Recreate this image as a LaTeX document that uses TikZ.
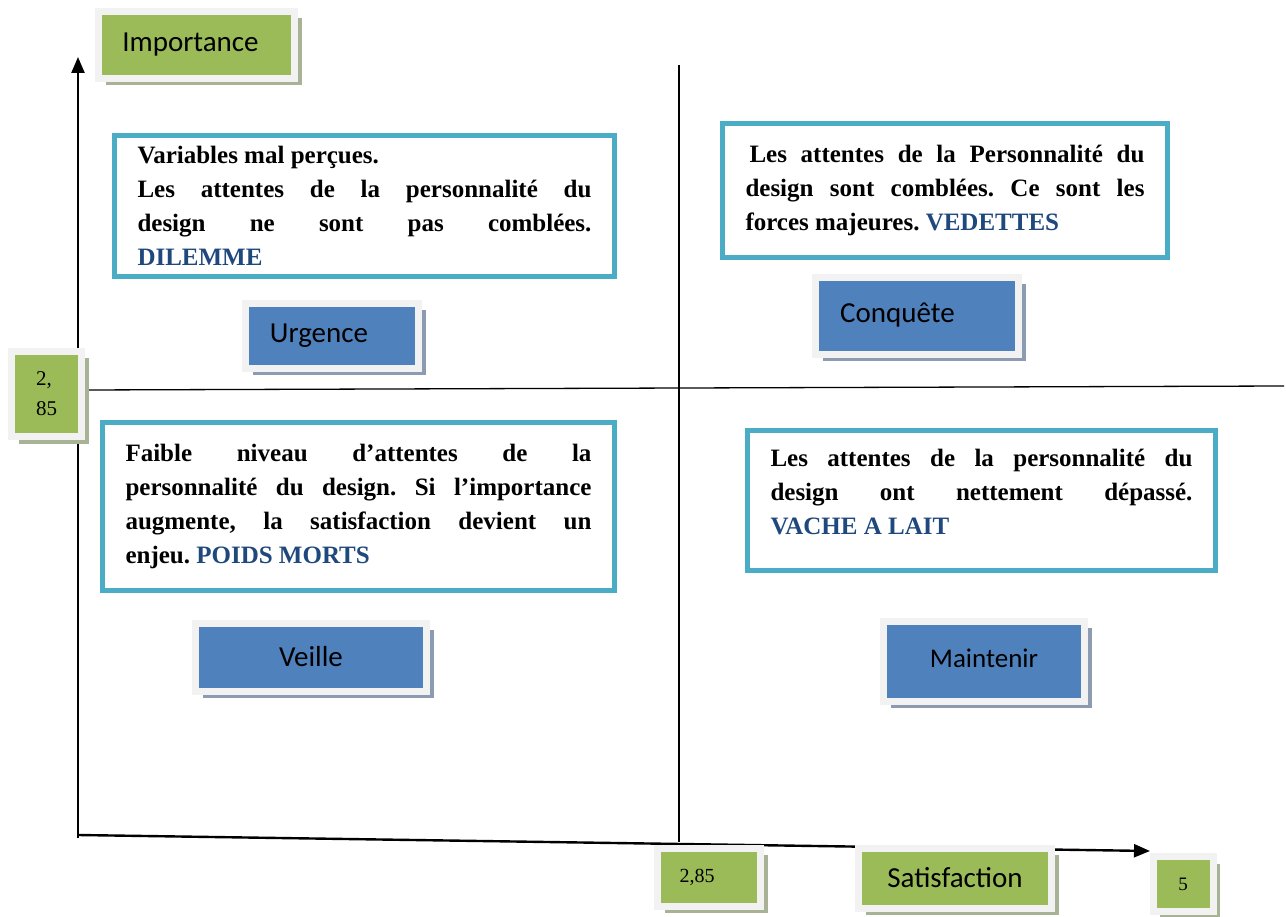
\documentclass[tikz,border=0pt]{standalone}
\usepackage{fontspec}
\setmainfont{Liberation Serif}
\newfontfamily\calibfont{Carlito}
\usetikzlibrary{arrows.meta,shadows}
\definecolor{labgreen}{RGB}{155,187,89}
\definecolor{labblue}{RGB}{79,129,189}
\definecolor{rimgray}{RGB}{242,242,242}
\definecolor{quadcyan}{RGB}{75,172,198}
\definecolor{keyblue}{RGB}{31,73,125}
\definecolor{greenshade}{RGB}{168,178,148}
\definecolor{blueshade}{RGB}{140,155,178}
\newcommand{\keyword}[1]{\textcolor{keyblue}{#1}}
\frenchspacing

\begin{document}
\begin{tikzpicture}[x=1pt,y=-1pt,
    axis/.style={line width=2.4pt, -{Triangle[length=16pt,width=13pt]}},
    split/.style={line width=1.3pt},
    axislabel/.style={fill=labgreen, draw=rimgray, line width=7pt, inner sep=0pt,
      drop shadow={shadow xshift=7pt, shadow yshift=-7pt, fill=greenshade, opacity=1}},
    zonelabel/.style={fill=labblue, draw=rimgray, line width=7pt, inner sep=0pt,
      font=\calibfont\fontsize{29}{34}\selectfont,
      drop shadow={shadow xshift=7pt, shadow yshift=-7pt, fill=blueshade, opacity=1}},
    quadbox/.style={draw=quadcyan, line width=5pt, fill=white, inner xsep=23pt,
      align=justify, font=\bfseries\fontsize{25}{34}\selectfont}]

\useasboundingbox (0,0) rectangle (1286,917);

% Axes
\coordinate (origin) at (78,838);
\coordinate (ytip) at (78,57);
\coordinate (xstart) at (78,835);
\coordinate (xtip) at (1150,851);
\draw[axis] (origin) -- (ytip);
\draw[axis] (xstart) -- (xtip);

% Quadrant split
\coordinate (vtop) at (679,65);
\coordinate (vbot) at (679,842);
\coordinate (hleft) at (85,390);
\coordinate (hright) at (1284,386);
\draw[split] (vtop) -- (vbot);
\draw[split] (hleft) -- (hright);

% Axis labels
\node[axislabel, minimum width=196, minimum height=67,
  font=\calibfont\fontsize{29}{34}\selectfont] (imp) at (196.5,45) {Importance\kern12pt};
\node[axislabel, minimum width=70, minimum height=85, align=left,
  font=\fontsize{21}{30}\selectfont] (ymid) at (46.5,394) {2,\\85};
\node[axislabel, minimum width=103, minimum height=58,
  font=\fontsize{20}{24}\selectfont] (xmid) at (709,877) {2,85\kern24pt};
\node[axislabel, minimum width=193, minimum height=60,
  font=\calibfont\fontsize{29}{34}\selectfont] (sat) at (955,878) {Satisfaction};
\node[axislabel, minimum width=60, minimum height=55,
  font=\fontsize{19}{24}\selectfont] (xmax) at (1183,884) {5};

% Quadrant texts
\node[quadbox, text width=454, minimum height=141] (dilemme) at (364.5,206)
  {Variables mal perçues.\\
   Les attentes de la personnalité du\linebreak
   design ne sont pas comblées.\linebreak
   \keyword{DILEMME}};
\node[quadbox, text width=399, minimum height=134] (vedettes) at (945,190.5)
  {\hspace{4pt}Les attentes de la Personnalité du\linebreak
   design sont comblées. Ce sont les\linebreak
   forces majeures. \keyword{VEDETTES}};
\node[quadbox, text width=466, minimum height=168] (poids) at (358.5,506.5)
  {Faible niveau d’attentes de la\linebreak
   personnalité du design. Si l’importance\linebreak
   augmente, la satisfaction devient un\linebreak
   enjeu. \keyword{POIDS MORTS}};
\node[quadbox, text width=422, minimum height=140] (vache) at (981.5,500.5)
  {Les attentes de la personnalité du\linebreak
   design ont nettement dépassé.\linebreak
   \keyword{VACHE A LAIT}\par\kern17pt};

% Strategy labels
\node[zonelabel, minimum width=173, minimum height=65] (urgence) at (332,336) {Urgence\kern26pt};
\node[zonelabel, minimum width=203, minimum height=77] (conquete) at (917,316) {\raisebox{6pt}{Conquête}\kern39pt};
\node[zonelabel, minimum width=231, minimum height=68] (veille) at (311,657) {Veille};
\node[zonelabel, minimum width=201, minimum height=80,
  font=\calibfont\fontsize{27}{32}\selectfont] (maintenir) at (984,661) {\raisebox{5pt}{Maintenir}};

\end{tikzpicture}
\end{document}
